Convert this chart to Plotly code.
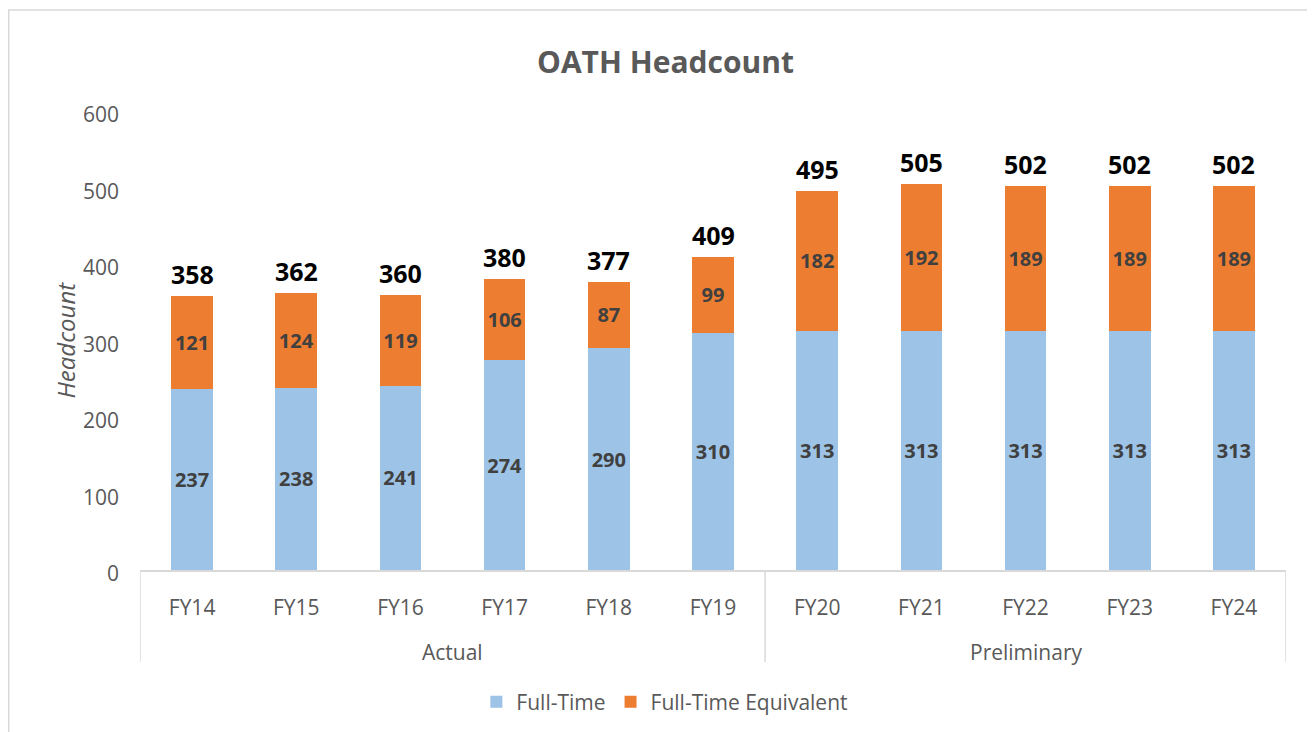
import plotly.graph_objects as go

groups = ["Actual", "Preliminary"]
group_sizes = [6, 5]
years = ["FY14", "FY15", "FY16", "FY17", "FY18", "FY19", "FY20", "FY21", "FY22", "FY23", "FY24"]
full_time = [237, 238, 241, 274, 290, 310, 313, 313, 313, 313, 313]
fte = [121, 124, 119, 106, 87, 99, 182, 192, 189, 189, 189]
totals = [358, 362, 360, 380, 377, 409, 495, 505, 502, 502, 502]

FONT = "Open Sans"
GRAY = "#595959"
LINE = "#D9D9D9"
PH = 459  # plot height in px

fig = go.Figure()
fig.add_trace(go.Bar(
    x=years, y=full_time, name="Full-Time", marker=dict(color="#9DC3E6", line=dict(width=0)),
    text=full_time, textposition="inside", insidetextanchor="middle",
    textfont=dict(family=FONT, size=20, color="#404040", weight="bold"),
))
fig.add_trace(go.Bar(
    x=years, y=fte, name="Full-Time Equivalent", marker=dict(color="#ED7D31", line=dict(width=0)),
    text=fte, textposition="inside", insidetextanchor="middle",
    textfont=dict(family=FONT, size=20, color="#404040", weight="bold"),
))

fig.update_layout(
    width=1315, height=732,
    barmode="stack", bargap=0.6,
    paper_bgcolor="white", plot_bgcolor="white",
    margin=dict(l=132, r=37, t=732 - 170 - PH, b=170, autoexpand=False),
    font=dict(family=FONT, color=GRAY, size=21),
    title=dict(text="<b>OATH Headcount</b>", x=0.5, xanchor="center", y=1 - 54 / 732, yanchor="middle",
               font=dict(family=FONT, size=30, color=GRAY)),
    uniformtext=dict(mode=False),
    legend=dict(orientation="h", x=0.458, xanchor="center", y=-132 / PH, yanchor="middle",
                font=dict(family=FONT, size=21, color=GRAY), traceorder="normal"),
    xaxis=dict(type="category", showline=True, linecolor=LINE, linewidth=1.5,
               ticks="", ticklabelstandoff=18, range=[-0.5, 10.5],
               tickfont=dict(family=FONT, size=21, color=GRAY)),
    yaxis=dict(range=[0, 600], dtick=100, showgrid=False, zeroline=False, showline=False,
               ticklabelstandoff=20, ticklabelshift=4,
               tickfont=dict(family=FONT, size=21, color=GRAY)),
)

# totals above stacks
for yr, tot in zip(years, totals):
    fig.add_annotation(text=f"<b>{tot}</b>", x=yr, y=tot, xref="x", yref="y", showarrow=False,
                       xanchor="center", yanchor="bottom", yshift=3,
                       font=dict(family=FONT, size=25, color="#000000"))

# y-axis title
fig.add_annotation(text="<i>Headcount</i>", xref="paper", yref="paper", x=(57 - 132) / 1146, y=0.5,
                   textangle=-90, showarrow=False, xanchor="center", yanchor="middle",
                   font=dict(family=FONT, size=24, color=GRAY))

# group labels and dividers
start = 0
bounds = [-0.5]
for g, n in zip(groups, group_sizes):
    center = start + (n - 1) / 2
    fig.add_annotation(text=g, xref="x", yref="paper", x=center, y=-82 / PH, showarrow=False,
                       xanchor="center", yanchor="middle", font=dict(family=FONT, size=21, color=GRAY))
    start += n
    bounds.append(start - 0.5)
for b in bounds:
    fig.add_shape(type="line", xref="x", yref="paper", x0=b, x1=b, y0=0, y1=-92 / PH,
                  line=dict(color=LINE, width=1.5))

# chart border
fig.add_shape(type="rect", xref="paper", yref="paper", x0=(0.75 - 132) / 1146, x1=(1302 - 132) / 1146,
              y0=-0.45, y1=(562 - 2) / PH,
              line=dict(color=LINE, width=1.5), fillcolor="rgba(0,0,0,0)", layer="below")

fig.write_html("out.html")
